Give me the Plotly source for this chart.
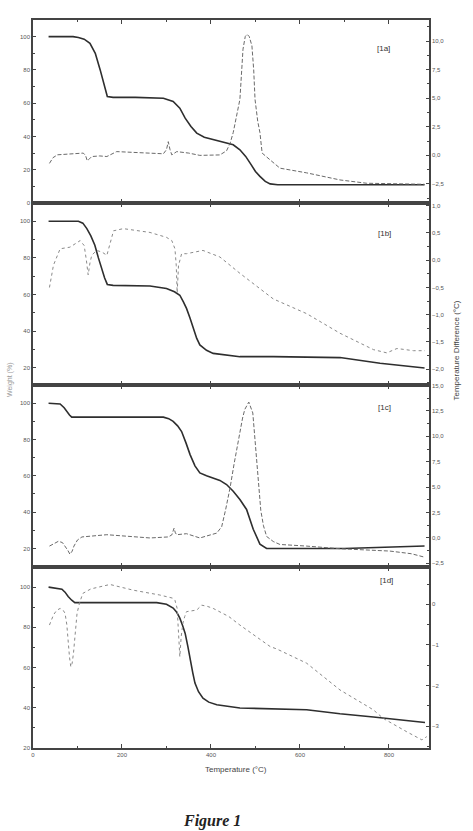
import plotly.graph_objects as go

# ---------------- data ----------------
# Panel 1a
t_1a_w = [35, 60, 90, 102, 115, 128, 140, 151, 160, 167, 180, 230, 293, 315, 330, 342, 355, 368, 385, 405, 430, 450, 465, 478, 488, 500, 510, 522, 533, 550, 650, 750, 880]
w_1a = [100, 100, 100, 99.5, 98.5, 96, 90, 80, 70, 64, 63.5, 63.5, 63, 61, 57, 51, 46, 42, 39.5, 38, 36.5, 35, 32, 28, 24, 19, 16, 13, 11.5, 11, 11, 11, 11]
t_1a_d = [37, 45, 55, 80, 113, 118, 122, 127, 132, 150, 166, 188, 230, 293, 300, 304, 308, 312, 323, 350, 375, 420, 435, 443, 450, 461, 465, 472, 477, 481, 486, 492, 496, 499, 505, 510, 515, 533, 555, 615, 690, 750, 820, 880]
d_1a = [-0.7, -0.2, 0.05, 0.1, 0.2, 0.0, -0.47, -0.3, -0.1, -0.05, -0.1, 0.33, 0.25, 0.14, 0.5, 1.2, 0.5, 0.04, 0.33, 0.2, 0.0, 0.04, 0.4, 1.06, 2.0, 4.0, 4.9, 9.3, 10.4, 10.6, 10.4, 9.6, 7.5, 4.9, 3.0, 2.0, 0.2, -0.4, -1.12, -1.53, -2.15, -2.44, -2.5, -2.53]

# Panel 1b
t_1b_w = [35, 70, 102, 112, 121, 130, 139, 147, 154, 161, 167, 180, 263, 300, 318, 330, 338, 345, 353, 360, 368, 375, 390, 405, 465, 540, 690, 780, 880]
w_1b = [100, 100, 100, 99, 96, 92, 86.9, 80, 74, 69, 65.5, 65, 64.6, 63.3, 61.5, 59.6, 56, 52.4, 47, 41.5, 36, 32.4, 29.5, 27.8, 26, 26, 25.5, 22.4, 19.8]
t_1b_d = [37, 46, 61, 83, 106, 115, 120, 124, 128, 132, 143, 155, 166, 174, 181, 203, 263, 300, 312, 319, 322, 324, 327, 334, 345, 382, 420, 465, 540, 615, 690, 765, 795, 818, 855, 881]
d_1b = [-0.5, -0.09, 0.21, 0.24, 0.36, 0.27, 0.0, -0.27, -0.05, 0.09, 0.18, 0.15, 0.09, 0.35, 0.54, 0.58, 0.51, 0.42, 0.36, 0.21, -0.1, -0.6, -0.1, 0.12, 0.12, 0.18, 0.06, -0.24, -0.71, -0.98, -1.34, -1.64, -1.7, -1.62, -1.66, -1.66]

# Panel 1c
t_1c_w = [35, 61, 70, 76, 82, 87, 100, 293, 305, 315, 325, 334, 344, 353, 364, 375, 390, 405, 420, 435, 450, 465, 480, 495, 510, 525, 560, 700, 880]
w_1c = [100, 99.6, 97.5, 95.4, 93.5, 92.3, 92.3, 92.3, 91.5, 90, 87.5, 84.4, 78, 71.7, 65.5, 61.6, 60, 58.9, 57.5, 55.2, 51.5, 47, 41.5, 30.6, 22.4, 20, 20, 20, 21.4]
t_1c_d = [37, 50, 57, 66, 72, 78, 83, 88, 92, 100, 110, 166, 263, 304, 312, 317, 320, 323, 345, 375, 413, 424, 433, 443, 452, 461, 465, 471, 476, 485, 494, 498, 503, 512, 518, 525, 540, 555, 615, 690, 802, 850, 881]
d_1c = [-0.8, -0.45, -0.33, -0.45, -0.8, -1.2, -1.6, -1.3, -0.8, -0.2, 0.1, 0.32, 0.0, 0.1, 0.3, 0.96, 0.5, 0.32, 0.42, 0.0, 0.48, 1.1, 2.8, 4.96, 7.3, 9.45, 10.7, 11.8, 12.65, 13.37, 12.3, 10.0, 7.5, 2.7, 1.2, 0.15, -0.35, -0.64, -0.8, -1.06, -1.29, -1.55, -1.9]

# Panel 1d
t_1d_w = [35, 65, 72, 79, 87, 94, 110, 278, 300, 315, 323, 330, 336, 342, 348, 353, 359, 364, 372, 382, 395, 413, 440, 465, 615, 690, 765, 881]
w_1d = [100, 99, 97.5, 95.3, 93.5, 92.3, 92.3, 92.3, 91.5, 89.6, 87.5, 84.6, 81, 77, 70.5, 63.9, 57.5, 52.3, 48, 44.8, 42.8, 41.5, 40.6, 39.9, 39, 37, 35.4, 32.7]
t_1d_d = [37, 46, 53, 61, 68, 72, 76, 79, 82, 85, 88, 91, 95, 99, 105, 112, 130, 151, 173, 225, 285, 315, 319, 324, 327, 330, 333, 337, 341, 345, 368, 379, 392, 405, 440, 465, 533, 548, 615, 690, 765, 787, 840, 874, 885]
d_1d = [-0.51, -0.26, -0.15, -0.1, -0.15, -0.22, -0.5, -0.96, -1.3, -1.54, -1.45, -1.2, -0.7, -0.22, 0.05, 0.27, 0.38, 0.43, 0.49, 0.35, 0.23, 0.15, 0.1, -0.1, -0.6, -1.29, -0.8, -0.46, -0.3, -0.18, -0.14, -0.02, -0.05, -0.1, -0.3, -0.51, -1.04, -1.1, -1.45, -2.11, -2.6, -2.81, -3.14, -3.34, -3.26]

panel_labels = ["[1a]", "[1b]", "[1c]", "[1d]"]
x_tick_vals = [0, 200, 400, 600, 800]

# ---------------- figure ----------------
W_, H_ = 473, 831
ML, MR, MT, MB = 33, 44, 20, 83
AX = "#444444"
TF = dict(family="Liberation Sans, Arial, sans-serif", size=6, color="#555555")

panels = [
    dict(tw=t_1a_w, w=w_1a, td=t_1a_d, d=d_1a, dom=[0.7486, 1.0], yl=[0, 110], yr=[-4.17, 11.85],
         r0=-2.5, rd=2.5, rmin=1.25, rfmt=".1f", dash="4px,2px", dcol="#6a6a6a", l0=0),
    dict(tw=t_1b_w, w=w_1b, td=t_1b_d, d=d_1b, dom=[0.4986, 0.7486], yl=[10.5, 110], yr=[-2.29, 1.05],
         r0=-2.0, rd=0.5, rmin=0.25, rfmt=".1f", dash="dot", dcol="#8a8a8a", l0=20),
    dict(tw=t_1c_w, w=w_1c, td=t_1c_d, d=d_1c, dom=[0.2486, 0.4986], yl=[9.8, 110], yr=[-2.86, 15.05],
         r0=-2.5, rd=2.5, rmin=1.25, rfmt=".1f", dash="4px,2px", dcol="#6a6a6a", l0=20),
    dict(tw=t_1d_w, w=w_1d, td=t_1d_d, d=d_1d, dom=[0.0, 0.2486], yl=[20, 110], yr=[-3.54, 0.92],
         r0=-3, rd=1, rmin=0.5, rfmt="d", dash="dot", dcol="#8a8a8a", l0=20),
]

fig = go.Figure()
layout = dict(
    width=W_, height=H_, margin=dict(l=ML, r=MR, t=MT, b=MB),
    paper_bgcolor="white", plot_bgcolor="white", showlegend=False,
    separators=",.",
)

for i, p in enumerate(panels):
    xn = "x" if i == 0 else f"x{i+1}"
    yl_n = f"y{2*i+1}" if i > 0 else "y"
    yr_n = f"y{2*i+2}"
    xkey = "xaxis" if i == 0 else f"xaxis{i+1}"
    ylkey = "yaxis" if i == 0 else f"yaxis{2*i+1}"
    yrkey = f"yaxis{2*i+2}"

    fig.add_trace(go.Scatter(x=p["tw"], y=p["w"], xaxis=xn, yaxis=yl_n, mode="lines",
                             line=dict(color="#2e2e2e", width=1.6)))
    fig.add_trace(go.Scatter(x=p["td"], y=p["d"], xaxis=xn, yaxis=yr_n, mode="lines",
                             line=dict(color=p["dcol"], width=1.0, dash=p["dash"])))

    layout[xkey] = dict(domain=[0, 1], anchor=yl_n, range=[0, 890], showgrid=False, zeroline=False,
                        showline=True, linecolor=AX, linewidth=1.5, mirror="ticks",
                        ticks="inside", ticklen=4, tickcolor=AX, tickvals=x_tick_vals,
                        showticklabels=(i == 3), tickfont=TF,
                        minor=dict(ticks="inside", ticklen=2, tickcolor=AX, dtick=100, tick0=0))
    layout[ylkey] = dict(domain=p["dom"], anchor=xn, range=p["yl"], showgrid=False, zeroline=False,
                         showline=True, linecolor=AX, linewidth=1.5,
                         ticks="inside", ticklen=3, tickcolor=AX, tick0=p["l0"], dtick=20,
                         tickfont=TF, tickformat="d",
                         minor=dict(ticks="inside", ticklen=2, tickcolor=AX, dtick=10, tick0=0))
    layout[yrkey] = dict(overlaying=yl_n, side="right", anchor=xn, range=p["yr"], showgrid=False,
                         zeroline=False, showline=True, linecolor=AX, linewidth=1.5,
                         ticks="inside", ticklen=3, tickcolor=AX, tick0=p["r0"], dtick=p["rd"],
                         tickfont=TF, tickformat=p["rfmt"],
                         minor=dict(ticks="inside", ticklen=2, tickcolor=AX, dtick=p["rmin"], tick0=p["r0"]))

fig.update_layout(**layout)

PW = W_ - ML - MR
PH = H_ - MT - MB

def px_to_paper(xp, yp):
    return (xp - ML) / PW, (H_ - MB - yp) / PH

ann = []
label_pos = [(392, 42), (393, 227), (393, 407), (395, 587)]
for lab, (xp, yp) in zip(panel_labels, label_pos):
    ax_, ay_ = px_to_paper(xp, yp)
    ann.append(dict(text=lab, x=ax_, y=ay_, xref="paper", yref="paper", showarrow=False,
                    font=dict(family="Liberation Sans, Arial, sans-serif", size=8, color="#333333")))

ax_, ay_ = px_to_paper(236, 776)
ann.append(dict(text="Temperature (°C)", x=ax_, y=ay_, xref="paper", yref="paper", showarrow=False,
                font=dict(family="Liberation Sans, Arial, sans-serif", size=8, color="#444444")))
ax_, ay_ = px_to_paper(462, 350)
ann.append(dict(text="Temperature Difference (°C)", x=ax_, y=ay_, xref="paper", yref="paper",
                showarrow=False, textangle=-90,
                font=dict(family="Liberation Sans, Arial, sans-serif", size=8, color="#444444")))
ax_, ay_ = px_to_paper(4, 380)
ann.append(dict(text="Weight (%)", x=ax_, y=ay_, xref="paper", yref="paper",
                showarrow=False, textangle=-90,
                font=dict(family="Liberation Sans, Arial, sans-serif", size=7, color="#999999")))
ax_, ay_ = px_to_paper(212, 810)
ann.append(dict(text="<b><i>Figure 1</i></b>", x=ax_, y=ay_, xref="paper", yref="paper",
                showarrow=False, yanchor="top",
                font=dict(family="Liberation Serif, DejaVu Serif, serif", size=16, color="#222222")))

fig.update_layout(annotations=ann)
fig.write_html("out.html")
